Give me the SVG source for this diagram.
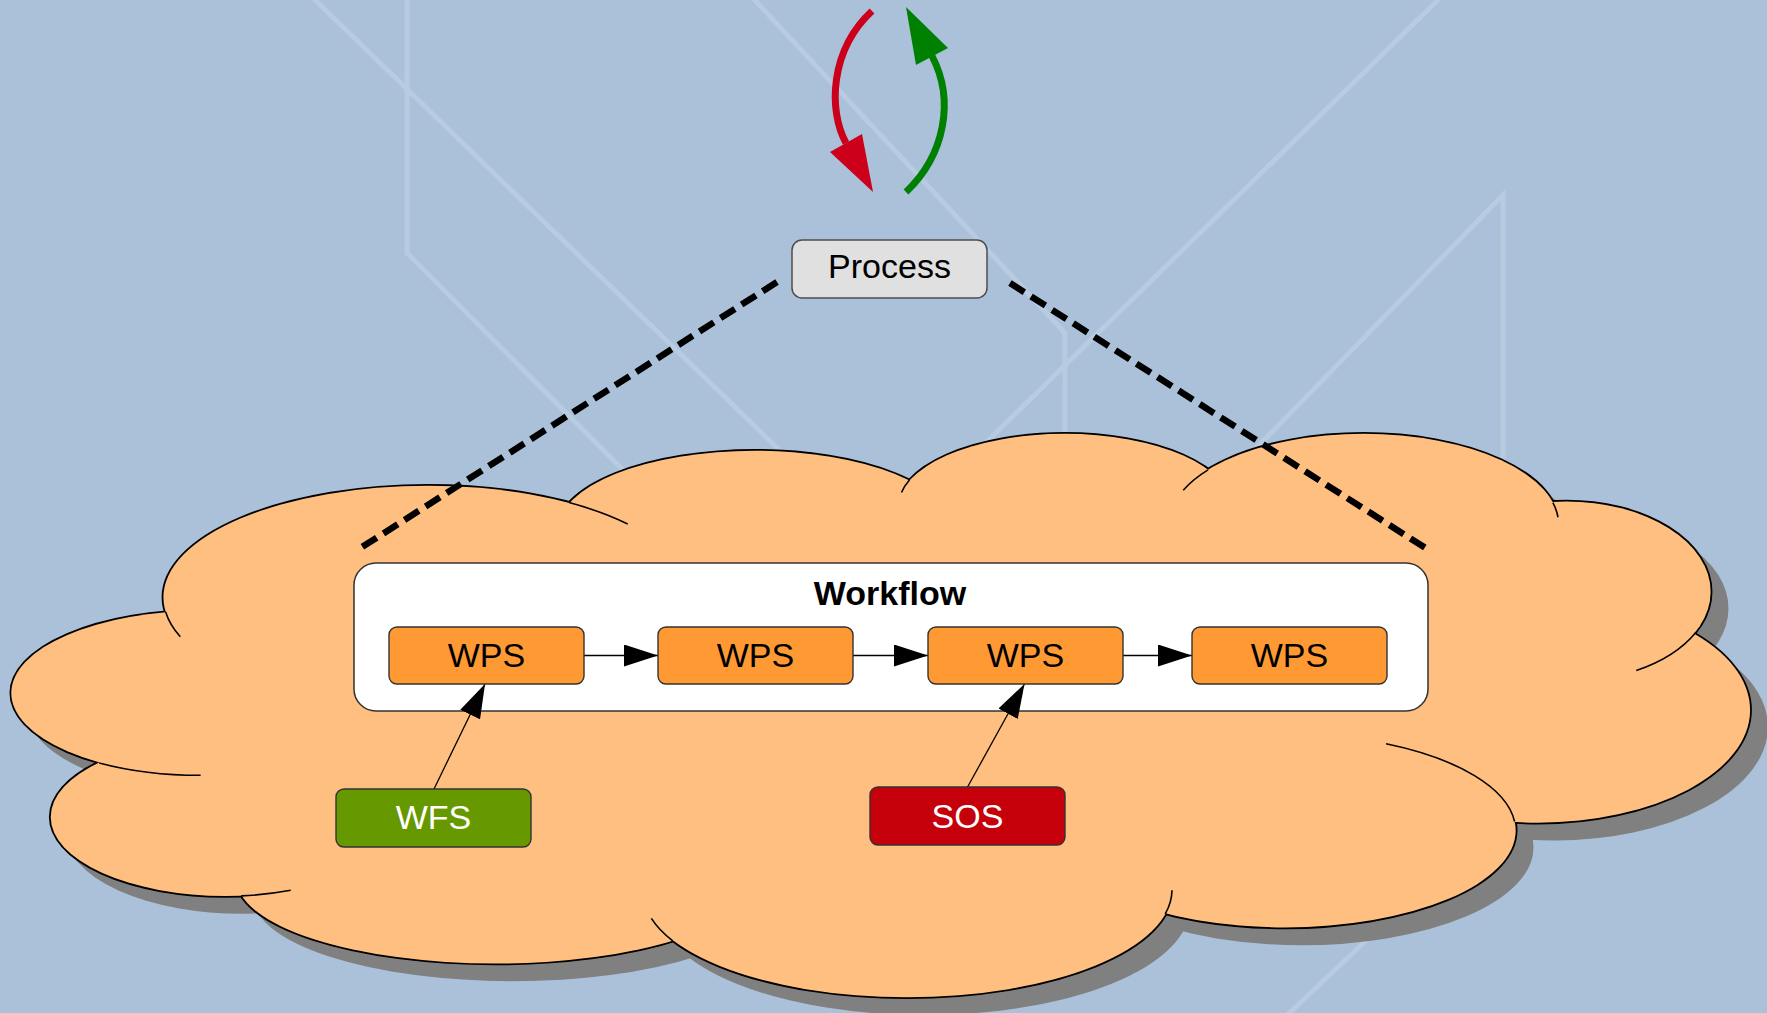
<svg xmlns="http://www.w3.org/2000/svg" xmlns:xlink="http://www.w3.org/1999/xlink" width="1767" height="1013" viewBox="0 0 1767 1013">
  <style>
    .bgline { fill: none; stroke: #b8cbe1; stroke-width: 5; stroke-linejoin: miter; }
    .box { stroke: #333333; stroke-width: 1.4; }
    .wps { fill: #ff9933; }
    .lbl { font-family: "Liberation Sans", Arial, sans-serif; font-size: 34px; text-anchor: middle; }
    .dash { fill: none; stroke: #000; stroke-width: 6.5; stroke-dasharray: 17 8; }
    .conn { fill: none; stroke: #000; stroke-width: 1.3; }
    .inner { fill: none; stroke: #000; stroke-width: 1.4; }
  </style>
  <defs>
    <g id="lobes">
      <ellipse cx="380" cy="530" rx="235" ry="99"/>
      <ellipse cx="670" cy="470" rx="175" ry="70"/>
      <ellipse cx="945" cy="450" rx="148" ry="65"/>
      <ellipse cx="1210" cy="465" rx="173" ry="80"/>
      <ellipse cx="1390" cy="525" rx="128" ry="80"/>
      <ellipse cx="1365" cy="630" rx="188" ry="100"/>
      <ellipse cx="1140" cy="737" rx="205" ry="86"/>
      <ellipse cx="805" cy="790" rx="235" ry="95"/>
      <ellipse cx="440" cy="780" rx="230" ry="75"/>
      <ellipse cx="200" cy="725" rx="155" ry="70"/>
      <ellipse cx="180" cy="615" rx="170" ry="73"/>
    </g>
    <marker id="ah" markerUnits="userSpaceOnUse" markerWidth="34" markerHeight="22" viewBox="0 0 34 22" refX="34" refY="11" orient="auto">
      <path d="M0,0 L34,11 L0,22 z" fill="#000"/>
    </marker>
  </defs>

  <rect id="background" x="0" y="0" width="1767" height="1013" fill="#aac1d9"/>
  <g id="background-lines">
    <polyline class="bgline" points="310,-5 800,470"/>
    <polyline class="bgline" points="407,-5 407,253 640,487"/>
    <polyline class="bgline" points="750,-5 1065,333 1065,470"/>
    <polyline class="bgline" points="1443,-5 960,468"/>
    <polyline class="bgline" points="1503,470 1503,195 1230,475"/>
    <polyline class="bgline" points="1282,1020 1430,880"/>
  </g>

  <g id="cloud" transform="scale(1.12691)">
    <g transform="translate(15,15)" fill="#808080" stroke="#808080" stroke-width="1.6">
      <use xlink:href="#lobes" href="#lobes"/>
      <ellipse cx="780" cy="640" rx="620" ry="180"/>
    </g>
    <use xlink:href="#lobes" href="#lobes" fill="none" stroke="#000" stroke-width="3.2"/>
    <g fill="#ffbf80" stroke="none">
      <use xlink:href="#lobes" href="#lobes"/>
      <ellipse cx="780" cy="640" rx="620" ry="180"/>
    </g>
    <g id="cloud-inner-arcs">
      <path class="inner" d="M147,543 A235,99 0 0,0 160,565"/>
      <path class="inner" d="M505,446 A235,99 0 0,1 557,465"/>
      <path class="inner" d="M807,426 A148,65 0 0,0 800,437"/>
      <path class="inner" d="M1072,417 A173,80 0 0,0 1050,435"/>
      <path class="inner" d="M1378,446 A173,80 0 0,1 1382.5,459"/>
      <path class="inner" d="M1505,561 A128,80 0 0,1 1452,595"/>
      <path class="inner" d="M1230,660 A205,86 0 0,1 1344,729"/>
      <path class="inner" d="M1034,811 A235,95 0 0,0 1040,790"/>
      <path class="inner" d="M597,835 A235,95 0 0,1 578,815"/>
      <path class="inner" d="M214,795 A155,70 0 0,0 258,790"/>
      <path class="inner" d="M88,677 A170,73 0 0,0 178,688"/>
    </g>
  </g>

  <g id="workflow">
    <rect x="354" y="563" width="1074" height="148" rx="22" fill="#ffffff" stroke="#333333" stroke-width="1.5"/>
    <text x="890" y="605" class="lbl" font-weight="bold">Workflow</text>
  </g>

  <g id="connectors">
    <line class="dash" x1="777" y1="282" x2="359" y2="549"/>
    <line class="dash" x1="1010" y1="283" x2="1427" y2="549"/>
    <line class="conn" x1="584" y1="655.5" x2="658" y2="655.5" marker-end="url(#ah)"/>
    <line class="conn" x1="853" y1="655.5" x2="928" y2="655.5" marker-end="url(#ah)"/>
    <line class="conn" x1="1123" y1="655.5" x2="1192" y2="655.5" marker-end="url(#ah)"/>
    <line class="conn" x1="434" y1="789" x2="485" y2="684" marker-end="url(#ah)"/>
    <line class="conn" x1="967" y1="788" x2="1024.5" y2="684" marker-end="url(#ah)"/>
    <g id="cycle-red">
      <path d="M872,11 C830,50 828,110 846,143" fill="none" stroke="#cc001a" stroke-width="7"/>
      <polygon points="873,192 830,152 862,134" fill="#cc001a"/>
    </g>
    <g id="cycle-green">
      <path d="M906,192 C945,155 955,100 932,56" fill="none" stroke="#008000" stroke-width="7"/>
      <polygon points="906,7 916,65 948,48" fill="#008000"/>
    </g>
  </g>

  <g id="wps1">
    <rect class="box wps" x="389" y="627" width="195" height="57" rx="8"/>
    <text class="lbl" x="486.5" y="667" fill="#000">WPS</text>
  </g>
  <g id="wps2">
    <rect class="box wps" x="658" y="627" width="195" height="57" rx="8"/>
    <text class="lbl" x="755.5" y="667" fill="#000">WPS</text>
  </g>
  <g id="wps3">
    <rect class="box wps" x="928" y="627" width="195" height="57" rx="8"/>
    <text class="lbl" x="1025.5" y="667" fill="#000">WPS</text>
  </g>
  <g id="wps4">
    <rect class="box wps" x="1192" y="627" width="195" height="57" rx="8"/>
    <text class="lbl" x="1289.5" y="667" fill="#000">WPS</text>
  </g>
  <g id="wfs">
    <rect class="box" x="336" y="789" width="195" height="58" rx="8" fill="#669900"/>
    <text class="lbl" x="433.5" y="829" fill="#ffffff">WFS</text>
  </g>
  <g id="sos">
    <rect class="box" x="870" y="787" width="195" height="58" rx="8" fill="#c5000b"/>
    <text class="lbl" x="967.5" y="828" fill="#ffffff">SOS</text>
  </g>
  <g id="process">
    <rect x="792" y="240" width="195" height="58" rx="10" fill="#e0e0e0" stroke="#4d4d4d" stroke-width="1.5"/>
    <text class="lbl" x="889.5" y="278" fill="#000">Process</text>
  </g>
</svg>
